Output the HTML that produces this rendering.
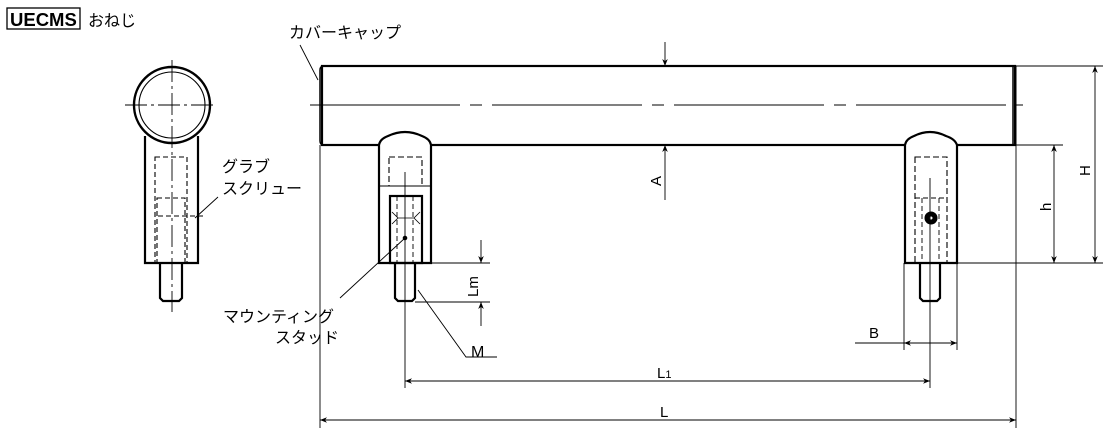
<!DOCTYPE html>
<html><head><meta charset="utf-8"><style>
html,body{margin:0;padding:0;background:#fff;}
svg{display:block;}
text{font-family:"Liberation Sans","Noto Sans CJK JP",sans-serif;fill:#000;}
</style></head><body>
<svg width="1106" height="432" viewBox="0 0 1106 432" xmlns="http://www.w3.org/2000/svg">
<defs>
<marker id="ar" viewBox="0 0 10 10" refX="10" refY="5" markerWidth="11" markerHeight="7" orient="auto-start-reverse" markerUnits="userSpaceOnUse"><path d="M0,1 L10,5 L0,9 L3,5Z" fill="#000"/></marker>
</defs>
<!-- title -->
<rect x="7" y="8" width="73" height="21" fill="none" stroke="#000" stroke-width="1.3"/>
<text x="10" y="26" font-size="18.5" font-weight="bold">UECMS</text>
<text x="88" y="26" font-size="16">おねじ</text>

<g stroke="#000" fill="none">
<!-- side view -->
<path d="M145,136 V263 H198 V136" stroke-width="2.2"/>
<circle cx="172" cy="105" r="38" stroke-width="2.4" fill="#fff"/>
<circle cx="172" cy="105" r="33" stroke-width="1.1"/>
<path d="M160,263 V298 L163,301 H179 L182,298 V263" stroke-width="2.2"/>
<line x1="172" y1="60" x2="172" y2="312" stroke-width="0.9" stroke-dasharray="22,4,3,4"/>
<line x1="125" y1="105" x2="217" y2="105" stroke-width="0.9" stroke-dasharray="22,4,3,4"/>
<rect x="155" y="157" width="32" height="106" stroke-width="1.1" stroke-dasharray="5,3"/>
<rect x="157" y="198" width="28" height="65" stroke-width="1.1" stroke-dasharray="5,3"/>
<path d="M158,216 H203" stroke-width="0.9" stroke-dasharray="5,3"/>
<line x1="195" y1="218" x2="218" y2="197" stroke-width="0.9"/>

<!-- bar -->
<rect x="322" y="66" width="693" height="79" stroke-width="2.2"/>
<path d="M320,70 Q320,66 324,66 M320,70 V141 Q320,145 324,145" stroke-width="1.5"/>
<line x1="1013" y1="66" x2="1013" y2="145" stroke-width="1.5"/>
<path d="M1016,66 V145" stroke-width="1"/>
<line x1="310" y1="105" x2="1023" y2="105" stroke-width="0.9" stroke-dasharray="150,10,12,10"/>
<line x1="300" y1="45" x2="318" y2="80" stroke-width="0.9"/>

<!-- left post -->
<path d="M379,263 V145 Q380,139 388,136 Q405,128 422,136 Q430,139 431,145 V263 Z" stroke-width="2.2" fill="#fff"/>
<line x1="379" y1="186" x2="431" y2="186" stroke-width="0.9"/>
<rect x="390" y="196" width="32" height="67" stroke-width="2.2"/>
<rect x="389" y="157" width="33" height="29" stroke-width="1.1" stroke-dasharray="6,3"/>
<path d="M397,196 V263 M413,196 V263" stroke-width="0.9" stroke-dasharray="5,3"/>
<path d="M392,212 L398,218 L392,224 M420,212 L414,218 L420,224 M398,218 H414" stroke-width="0.8"/>
<path d="M395,263 V298 L398,301 H412 L415,298 V263" stroke-width="2.2"/>
<line x1="405" y1="172" x2="405" y2="388" stroke-width="0.9"/>
<line x1="340" y1="298" x2="405" y2="238" stroke-width="0.9"/>
<circle cx="405" cy="238" r="1.8" fill="#000"/>

<!-- right post -->
<path d="M905,263 V145 Q906,139 914,136 Q930,128 946,136 Q955,139 957,145 V263 Z" stroke-width="2.2" fill="#fff"/>
<rect x="915" y="157" width="32" height="106" stroke-width="1.1" stroke-dasharray="6,3"/>
<path d="M922,198 V263 M939,198 V263" stroke-width="0.9" stroke-dasharray="5,3"/>
<path d="M915,198 H947" stroke-width="0.9" stroke-dasharray="5,3"/>
<circle cx="931" cy="218" r="6" fill="#000"/>
<circle cx="931" cy="218" r="1.5" fill="#fff" stroke="none"/>
<path d="M920,263 V298 L923,301 H937 L940,298 V263" stroke-width="2.2"/>
<line x1="930" y1="178" x2="930" y2="388" stroke-width="0.9"/>

<g stroke-width="0.9">
<line x1="1016" y1="66" x2="1103" y2="66"/>
<line x1="1016" y1="145" x2="1063" y2="145"/>
<line x1="957" y1="263" x2="1103" y2="263"/>
<line x1="432" y1="263" x2="490" y2="263"/>
<line x1="415" y1="302" x2="490" y2="302"/>
<line x1="320" y1="145" x2="320" y2="428"/>
<line x1="1016" y1="145" x2="1016" y2="428"/>
<line x1="904" y1="263" x2="904" y2="350"/>
<line x1="957" y1="263" x2="957" y2="350"/>
<line x1="1095" y1="66" x2="1095" y2="263" marker-start="url(#ar)" marker-end="url(#ar)"/>
<line x1="1054" y1="145" x2="1054" y2="263" marker-start="url(#ar)" marker-end="url(#ar)"/>
<line x1="665" y1="42" x2="665" y2="66" marker-end="url(#ar)"/>
<line x1="665" y1="200" x2="665" y2="145" marker-end="url(#ar)"/>
<line x1="481" y1="240" x2="481" y2="263" marker-end="url(#ar)"/>
<line x1="481" y1="326" x2="481" y2="302" marker-end="url(#ar)"/>
<line x1="405" y1="381" x2="930" y2="381" marker-start="url(#ar)" marker-end="url(#ar)"/>
<line x1="320" y1="420" x2="1016" y2="420" marker-start="url(#ar)" marker-end="url(#ar)"/>
<line x1="855" y1="343" x2="904" y2="343"/>
<line x1="904" y1="343" x2="957" y2="343" marker-start="url(#ar)" marker-end="url(#ar)"/>
<path d="M418,290 L466,357 H497"/>
</g>
</g>

<text x="289" y="38" font-size="16">カバーキャップ</text>
<text x="222" y="172" font-size="16">グラブ</text>
<text x="222" y="194" font-size="16">スクリュー</text>
<text x="223" y="322" font-size="16">マウンティング</text>
<text x="275" y="343" font-size="16">スタッド</text>
<text x="471" y="357" font-size="16">M</text>
<text x="657" y="378" font-size="15">L<tspan font-size="11">1</tspan></text>
<text x="660" y="417" font-size="15">L</text>
<text x="869" y="338" font-size="15">B</text>
<text transform="translate(661,186) rotate(-90)" font-size="15">A</text>
<text transform="translate(478,297) rotate(-90)" font-size="15">Lm</text>
<text transform="translate(1051,211) rotate(-90)" font-size="15">h</text>
<text transform="translate(1090,176) rotate(-90)" font-size="15">H</text>
</svg>
</body></html>
